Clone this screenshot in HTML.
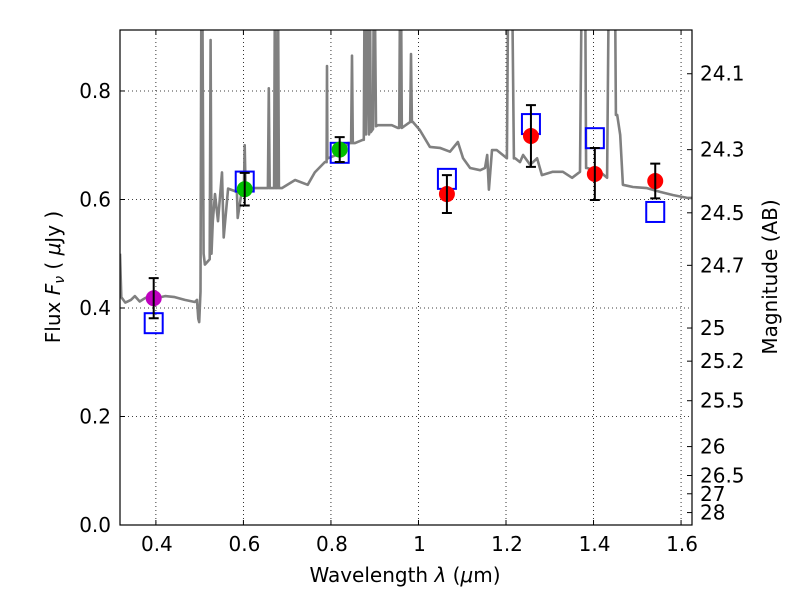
<!DOCTYPE html>
<html><head><meta charset="utf-8"><style>
html,body{margin:0;padding:0;background:#fff;}
svg{display:block;font-family:"DejaVu Sans","Liberation Sans",sans-serif;}
</style></head><body>
<svg id="chart" width="800" height="600">
<rect x="0" y="0" width="800" height="600" fill="#fff"/>
<defs><clipPath id="pc"><rect x="120" y="30" width="572" height="495"/></clipPath></defs>
<g id="grid"></g>
<g id="spec" clip-path="url(#pc)"></g>
<g id="marks"></g>
<rect x="120" y="30" width="572" height="495" fill="none" stroke="#000" stroke-width="1.2"/>
<g id="axes"></g>
<text x="405" y="582" font-size="20" text-anchor="middle">Wavelength  <tspan font-style="italic">λ</tspan> (<tspan font-style="italic">μ</tspan>m)</text>
<text transform="translate(60,277) rotate(-90)" font-size="20" text-anchor="middle">Flux  <tspan font-style="italic">F</tspan><tspan font-style="italic" font-size="14" dy="4">ν</tspan><tspan dy="-4">  ( </tspan><tspan font-style="italic">μ</tspan>Jy )</text>
<text transform="translate(777,277) rotate(-90)" font-size="20" text-anchor="middle">Magnitude (AB)</text>
</svg>
<script>
const specWl=[0.318,0.321,0.330,0.343,0.352,0.363,0.375,0.386,0.400,0.421,0.443,0.466,0.489,0.494,0.497,0.499,0.502,0.504,0.506,0.509,0.512,0.523,0.525,0.527,0.530,0.535,0.542,0.551,0.555,0.565,0.585,0.587,0.597,0.601,0.603,0.605,0.610,0.642,0.656,0.658,0.660,0.665,0.670,0.672,0.674,0.677,0.679,0.681,0.688,0.718,0.747,0.763,0.786,0.790,0.791,0.792,0.793,0.825,0.839,0.846,0.848,0.850,0.855,0.873,0.875,0.877,0.880,0.885,0.887,0.889,0.891,0.896,0.898,0.900,0.903,0.907,0.939,0.953,0.956,0.958,0.960,0.962,0.981,0.983,0.985,0.987,1.003,1.026,1.049,1.072,1.090,1.102,1.118,1.141,1.152,1.157,1.161,1.168,1.179,1.202,1.205,1.214,1.218,1.221,1.232,1.239,1.255,1.271,1.282,1.307,1.330,1.351,1.369,1.373,1.376,1.381,1.383,1.385,1.415,1.431,1.435,1.438,1.449,1.451,1.454,1.461,1.467,1.490,1.522,1.552,1.582,1.614,1.625];
const specFl=[0.50,0.42,0.41,0.415,0.422,0.412,0.418,0.422,0.418,0.422,0.420,0.415,0.411,0.415,0.38,0.374,0.43,1.0,1.0,0.50,0.48,0.49,0.894,0.50,0.56,0.61,0.56,0.65,0.53,0.62,0.614,0.566,0.62,0.62,0.70,0.62,0.621,0.621,0.621,0.805,0.621,0.621,0.621,1.0,0.621,0.621,1.0,0.621,0.621,0.636,0.627,0.65,0.669,0.669,0.846,0.676,0.676,0.686,0.704,0.704,0.865,0.704,0.704,0.71,0.71,1.0,0.72,1.0,0.72,1.0,0.724,0.73,1.0,1.0,0.735,0.737,0.737,0.732,0.732,1.0,1.0,0.732,0.743,0.868,0.743,0.743,0.728,0.697,0.695,0.688,0.706,0.676,0.658,0.654,0.658,0.682,0.618,0.691,0.691,0.676,1.0,1.0,0.676,0.676,0.669,0.682,0.664,0.676,0.645,0.651,0.651,0.640,0.651,1.0,1.0,1.0,0.658,0.658,0.651,0.640,1.0,1.0,1.0,0.756,0.756,0.719,0.627,0.623,0.621,0.614,0.608,0.603,0.603];
const photWl=[0.395,0.603,0.820,1.065,1.257,1.403,1.541];
const photFl=[0.418,0.619,0.692,0.610,0.717,0.647,0.634];
const photErr=[0.037,0.030,0.023,0.035,0.057,0.048,0.032];
const photColor=['#bf00bf','#00bf00','#00bf00','#ff0000','#ff0000','#ff0000','#ff0000'];
const modelFl=[0.372,0.633,0.686,0.638,0.739,0.713,0.577];
const xTicks=[0.4,0.6,0.8,1.0,1.2,1.4,1.6];
const xTickLabels=['0.4','0.6','0.8','1','1.2','1.4','1.6'];
const yTicks=[0.0,0.2,0.4,0.6,0.8];
const yTickLabels=['0.0','0.2','0.4','0.6','0.8'];
const magTicks=[24.1,24.3,24.5,24.7,25,25.2,25.5,26,26.5,27,28];
const magLabels=['24.1','24.3','24.5','24.7','25','25.2','25.5','26','26.5','27','28'];

const NS='http://www.w3.org/2000/svg';
const X0=120,X1=692,Y0=525,Y1=30,XMIN=0.318,XMAX=1.625,YMIN=0,YMAX=0.9124;
const sx=v=>X0+(v-XMIN)/(XMAX-XMIN)*(X1-X0);
const sy=v=>Y0-(v-YMIN)/(YMAX-YMIN)*(Y0-Y1);
function mk(tag,attrs,parent){const e=document.createElementNS(NS,tag);for(const k in attrs)e.setAttribute(k,attrs[k]);parent.appendChild(e);return e;}
const grid=document.getElementById('grid'),axes=document.getElementById('axes'),spec=document.getElementById('spec'),marks=document.getElementById('marks');
xTicks.forEach((t,i)=>{
  const x=sx(t);
  const g=mk('line',{x1:x,x2:x,y1:Y1,y2:Y0,stroke:'#000','stroke-width':0.8,'stroke-dasharray':'1,3'},grid);
  
  
  mk('line',{x1:x,x2:x,y1:Y0,y2:Y0-5,stroke:'#000'},axes);
  mk('line',{x1:x,x2:x,y1:Y1,y2:Y1+5,stroke:'#000'},axes);
  const tx=mk('text',{x:x+1,y:Y0+26,'font-size':20,'text-anchor':'middle'},axes);
  tx.textContent=xTickLabels[i];
  
  
});
yTicks.forEach((t,i)=>{
  const y=sy(t);
  const g=mk('line',{x1:X0,x2:X1,y1:y,y2:y,stroke:'#000','stroke-width':0.8,'stroke-dasharray':'1,3'},grid);
  
  
  mk('line',{x1:X0,x2:X0+5,y1:y,y2:y,stroke:'#000'},axes);
  const tx=mk('text',{x:X0-9,y:y+7,'font-size':20,'text-anchor':'end'},axes);
  tx.textContent=yTickLabels[i];
  
  
});
magTicks.forEach((m,i)=>{
  const f=Math.pow(10,(23.9-m)/2.5);const y=sy(f);
  mk('line',{x1:X1,x2:X1-5,y1:y,y2:y,stroke:'#000'},axes);
  const tx=mk('text',{x:X1+8,y:y+7,'font-size':20,'text-anchor':'start'},axes);
  tx.textContent=magLabels[i];
  
  
});
const d=specWl.map((w,i)=>(i?'L':'M')+sx(w).toFixed(1)+','+sy(specFl[i]).toFixed(1)).join('');
const p=mk('path',{d:d,fill:'none',stroke:'#808080','stroke-width':2.6,'stroke-linejoin':'round'},spec);


photWl.forEach((w,i)=>{
  const x=sx(w);
  const sq=mk('rect',{x:x-9,y:sy(modelFl[i])-10,width:18,height:20,fill:'none',stroke:'#0000ff','stroke-width':2},marks);
  
  
  const c=mk('circle',{cx:x,cy:sy(photFl[i]),r:8,fill:photColor[i]},marks);
  
  
  const yt=sy(photFl[i]+photErr[i]),yb=sy(photFl[i]-photErr[i]);
  const eb=mk('path',{d:`M${x},${yt}L${x},${yb}M${x-5},${yt}L${x+5},${yt}M${x-5},${yb}L${x+5},${yb}`,stroke:'#000','stroke-width':2,fill:'none'},marks);
  
  
});
</script>
</body></html>
